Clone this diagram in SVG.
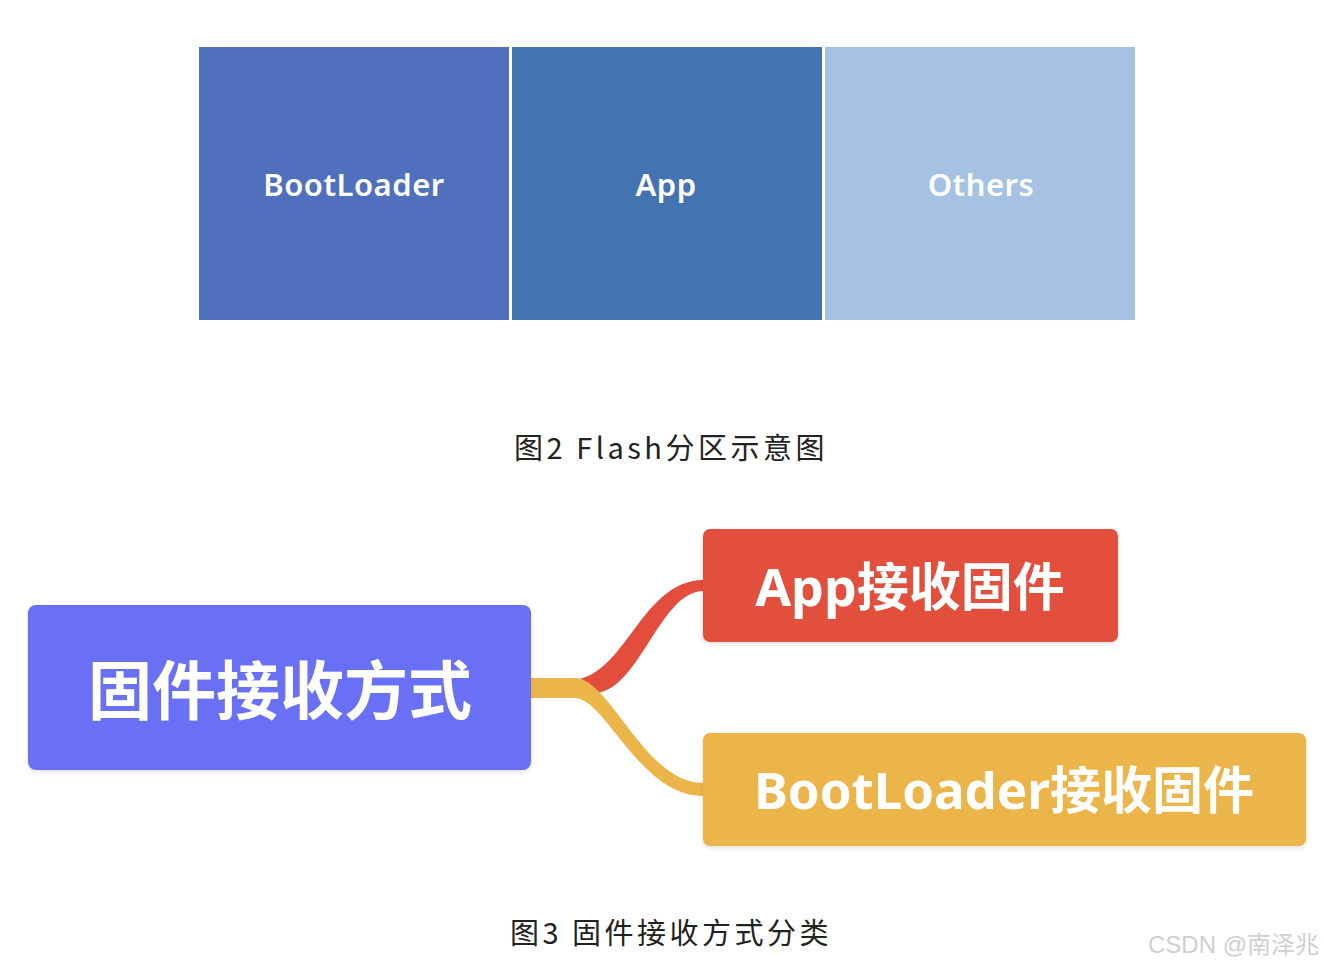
<svg xmlns="http://www.w3.org/2000/svg" width="1324" height="966" viewBox="0 0 1324 966">
<defs>
<style>
.part{stroke:none}
.plabel{font-family:"Noto Sans","DejaVu Sans",sans-serif;font-size:31px;font-weight:600;fill:#ffffff;text-anchor:middle;letter-spacing:0.5px}
.cap{font-family:"Noto Sans CJK SC","Noto Sans",sans-serif;font-size:29px;fill:#222222;text-anchor:middle;letter-spacing:3.5px}
.ntext{font-family:"Noto Sans","Noto Sans CJK SC",sans-serif;font-weight:bold;fill:#ffffff;text-anchor:middle}
.wm{font-family:"Liberation Sans","Noto Sans CJK SC",sans-serif;font-size:24px;fill:#cfcfcf}
</style>
<filter id="sh" x="-10%" y="-10%" width="120%" height="130%">
<feDropShadow dx="0" dy="2" stdDeviation="2" flood-color="#000" flood-opacity="0.12"/>
</filter>
</defs>
<rect width="1324" height="966" fill="#ffffff"/>
<g id="flash">
<g id="part-bootloader">
<rect class="part" x="199" y="47" width="310" height="273" fill="#5070bd"/>
<text class="plabel" x="354" y="196">BootLoader</text>
</g>
<g id="part-app">
<rect class="part" x="512" y="47" width="310" height="273" fill="#4373b0"/>
<text class="plabel" x="666" y="196">App</text>
</g>
<g id="part-others">
<rect class="part" x="825" y="47" width="310" height="273" fill="#a5c2e3"/>
<text class="plabel" x="981" y="196">Others</text>
</g>
</g>
<text class="cap" x="671" y="459">图2 Flash分区示意图</text>
<g id="connectors">
<path d="M 570 680 C 625 680, 640 581, 703 580 L 703 591 C 660 592, 640 688, 597 693 Z" fill="#e34d3b"/>
<path d="M 531 678 L 575 678 C 610 678, 645 783, 703 783 L 703 796 C 640 796, 605 698, 575 698 L 531 698 Z" fill="#ebb54a"/>
</g>
<g id="node-main">
<rect x="28" y="605" width="503" height="165" rx="8" fill="#6a70f5" filter="url(#sh)"/>
<text class="ntext" x="280" y="714" font-size="64">固件接收方式</text>
</g>
<g id="node-app">
<rect x="703" y="529" width="415" height="113" rx="7" fill="#e34f3c" filter="url(#sh)"/>
<text class="ntext" x="910" y="606" font-size="52">App接收固件</text>
</g>
<g id="node-boot">
<rect x="703" y="733" width="603" height="113" rx="7" fill="#ebb54a" filter="url(#sh)"/>
<text class="ntext" x="1004" y="809" font-size="51">BootLoader接收固件</text>
</g>
<text class="cap" x="671" y="944">图3 固件接收方式分类</text>
<text class="wm" x="1148" y="953">CSDN @南泽兆</text>
</svg>
